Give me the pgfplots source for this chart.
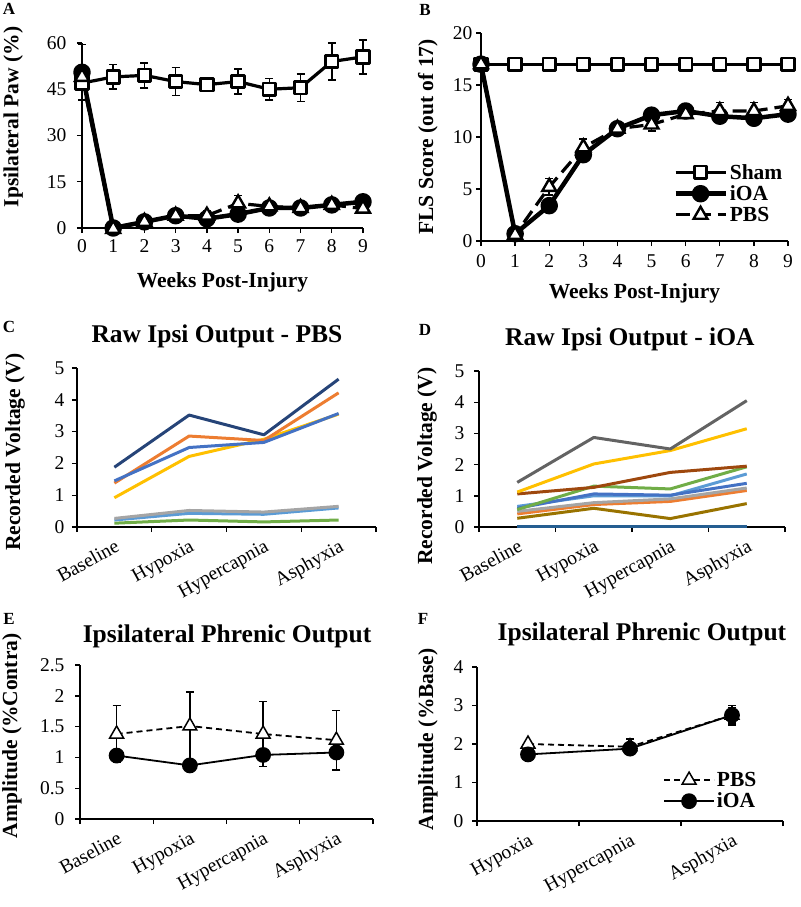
\documentclass[border=0pt]{standalone}
\usepackage{fontspec}
\setmainfont{Liberation Serif}
\usepackage{pgfplots}
\pgfplotsset{compat=1.18}
\definecolor{cnavy}{HTML}{264478}
\definecolor{corange}{HTML}{ED7D31}
\definecolor{cblue}{HTML}{4472C4}
\definecolor{cyellow}{HTML}{FFC000}
\definecolor{cgray}{HTML}{A5A5A5}
\definecolor{clblue}{HTML}{5B9BD5}
\definecolor{cgreen}{HTML}{70AD47}
\definecolor{cdgray}{HTML}{636363}
\definecolor{cbrown}{HTML}{9E480E}
\definecolor{colive}{HTML}{997300}
\definecolor{cdblue}{HTML}{255E91}
\pgfplotsset{
  base/.style={scale only axis, anchor=south west, axis x line*=bottom, axis y line*=left,
    axis line style={line width=1.6pt,-}, tick style={black, line width=1.4pt},
    tick align=outside, major tick length=5pt,
    tick label style={font=\fontsize{19.5}{21}\selectfont},
    /pgf/number format/assume math mode=true,
    label style={font=\bfseries\fontsize{21.5}{23}\selectfont},
    clip=false},
  cat/.style={x tick label as interval, xticklabel style={rotate=29, anchor=north east, font=\fontsize{19.5}{21}\selectfont, yshift=-2pt}},
  ylab/.style 2 args={ylabel style={at={(axis description cs:#1,#2)}, anchor=center}},
  xlab/.style={xlabel style={at={(axis description cs:0.5,#1)}, anchor=center}},
  ttl/.style 2 args={title style={at={(axis description cs:#1,#2)}, anchor=center, font=\bfseries\fontsize{25.5}{27}\selectfont}},
  sham/.style={black, line width=3.2pt, line join=round, mark=square*, mark size=6.3pt, mark options={fill=white, solid, line width=2.8pt}},
  ioa/.style={black, line width=4.5pt, line join=round, mark=*, mark size=6.5pt, mark options={fill=black, solid}},
  pbs/.style={black, line width=3.2pt, dash pattern=on 14pt off 7pt, mark=triangle*, mark size=8pt, mark options={fill=white, solid, line width=2.4pt}},
  ioaE/.style={black, line width=1.8pt, mark=*, mark size=7pt, mark options={fill=black, solid}},
  pbsE/.style={black, line width=1.8pt, dash pattern=on 6pt off 4pt, mark=triangle*, mark size=8pt, mark options={fill=white, solid, line width=1.5pt}},
  eb/.style={error bars/.cd, y dir=both, y explicit, error bar style={line width=1.6pt, solid, black}, error mark options={rotate=90, mark size=4pt, line width=1.6pt, black, solid}},
  lic/.style={legend image code/.code={\draw[mark repeat=2,mark phase=2,##1] plot coordinates {(0pt,0pt) (25pt,0pt) (50pt,0pt)};}},
  cl/.style={line width=3pt, line join=round, no marks},
}
\begin{document}
\begin{tikzpicture}
\useasboundingbox (0,0) rectangle (800pt,-907pt);
\tikzset{pl/.style={font=\bfseries\fontsize{17}{19}\selectfont, inner sep=0pt}}
\node[pl] at (9pt,-9pt) {A};
\node[pl] at (425pt,-10pt) {B};
\node[pl] at (9pt,-327pt) {C};
\node[pl] at (425pt,-330pt) {D};
\node[pl] at (9pt,-619pt) {E};
\node[pl] at (423pt,-619pt) {F};

% ---------- A ----------
\begin{axis}[base, at={(82pt,-228pt)}, width=281pt, height=185pt,
  xmin=0, xmax=9, ymin=0, ymax=60, xtick={0,...,9}, ytick={0,15,30,45,60},
  yticklabel style={xshift=-7pt}, xticklabel style={yshift=-3pt},
  xlabel={Weeks Post-Injury}, ylabel={Ipsilateral Paw (\%)}, xlab=-0.292, ylab={-0.245}{0.6}]
\addplot[sham, eb] table[x=x, y=y, y error=e] {
x y e
0 47 2
1 49 4
2 49.5 4
3 47.5 4.5
4 46.5 1.5
5 47.5 4
6 45 3.5
7 45.5 4.5
8 54 6
9 55.5 5.5
};
\addplot[ioa, eb] table[x=x, y=y, y error=e] {
x y e
0 50.5 9
1 0 0.5
2 2 1
3 4 1
4 3 1
5 4.5 1
6 6.5 1
7 6.5 1
8 7.5 1
9 8.5 1
};
\addplot[pbs, eb] table[x=x, y=y, y error=e] {
x y e
0 49 3
1 -0.3 0.5
2 2 1
3 4 1
4 4 1.5
5 8 2.5
6 7 1
7 6.5 1
8 7.5 1.5
9 6.3 1
};
\end{axis}

% ---------- B ----------
\begin{axis}[base, lic, at={(481pt,-241pt)}, width=307pt, height=208pt,
  xmin=0, xmax=9, ymin=0, ymax=20, xtick={0,...,9}, ytick={0,5,10,15,20},
  xticklabel style={yshift=-5pt},
  xlabel={Weeks Post-Injury}, ylabel={FLS Score (out of 17)}, xlab=-0.25, ylab={-0.173}{0.5},
  legend style={draw=none, fill=none, at={(0.616,0.39)}, anchor=north west, font=\bfseries\fontsize{21.5}{23}\selectfont, row sep=1pt},
  legend cell align=left]
\addplot[sham, eb] table[x=x, y=y, y error=e] {
x y e
0 17 0.2
1 17 0.2
2 17 0.2
3 17 0.2
4 17 0.2
5 17 0.2
6 17 0.2
7 17 0.2
8 17 0.2
9 17 0.2
};
\addlegendentry{Sham}
\addplot[ioa, eb] table[x=x, y=y, y error=e] {
x y e
0 17 0.3
1 0.7 0.4
2 3.4 0.5
3 8.3 0.5
4 10.8 0.4
5 12.1 0.4
6 12.5 0.4
7 12.0 0.4
8 11.8 0.4
9 12.2 0.4
};
\addlegendentry{iOA}
\addplot[pbs, eb] table[x=x, y=y, y error=e] {
x y e
0 17 0.3
1 0.6 0.5
2 5.2 0.8
3 9.0 0.8
4 10.8 0.4
5 11.2 0.6
6 12.2 0.4
7 12.5 0.8
8 12.5 0.8
9 13.0 0.6
};
\addlegendentry{PBS}
\end{axis}

% ---------- C ----------
\begin{axis}[base, cat, at={(77pt,-527pt)}, width=299pt, height=159pt,
  xmin=-0.5, xmax=3.5, ymin=0, ymax=5, xtick={-0.5,0.5,1.5,2.5,3.5},
  xticklabels={Baseline,Hypoxia,Hypercapnia,Asphyxia}, ytick={0,...,5},
  yticklabel style={xshift=-4pt},
  ylabel={Recorded Voltage (V)}, ylab={-0.207}{0.47},
  title={Raw Ipsi Output - PBS}, ttl={0.468}{1.164}]
\addplot[cl, cgreen] coordinates {(0,0.12) (1,0.22) (2,0.16) (3,0.22)};
\addplot[cl, clblue] coordinates {(0,0.22) (1,0.43) (2,0.40) (3,0.60)};
\addplot[cl, cgray] coordinates {(0,0.27) (1,0.52) (2,0.47) (3,0.65)};
\addplot[cl, cyellow] coordinates {(0,0.92) (1,2.22) (2,2.76) (3,3.55)};
\addplot[cl, corange] coordinates {(0,1.38) (1,2.86) (2,2.72) (3,4.22)};
\addplot[cl, cnavy] coordinates {(0,1.88) (1,3.52) (2,2.90) (3,4.65)};
\addplot[cl, cblue] coordinates {(0,1.45) (1,2.50) (2,2.66) (3,3.57)};
\end{axis}

% ---------- D ----------
\begin{axis}[base, cat, at={(479pt,-527pt)}, width=306pt, height=156pt,
  xmin=-0.5, xmax=3.5, ymin=0, ymax=5, xtick={-0.5,0.5,1.5,2.5,3.5},
  xticklabels={Baseline,Hypoxia,Hypercapnia,Asphyxia}, ytick={0,...,5},
  yticklabel style={xshift=-6pt},
  ylabel={Recorded Voltage (V)}, ylab={-0.170}{0.39},
  title={Raw Ipsi Output - iOA}, ttl={0.493}{1.167}]
\addplot[cl, cdblue] coordinates {(0,0.02) (1,0.02) (2,0.02) (3,0.02)};
\addplot[cl, colive] coordinates {(0,0.28) (1,0.60) (2,0.27) (3,0.75)};
\addplot[cl, corange] coordinates {(0,0.42) (1,0.72) (2,0.82) (3,1.17)};
\addplot[cl, cgray] coordinates {(0,0.50) (1,0.78) (2,0.90) (3,1.25)};
\addplot[cl, clblue] coordinates {(0,0.66) (1,1.00) (2,1.00) (3,1.70)};
\addplot[cl, cblue] coordinates {(0,0.60) (1,1.06) (2,1.02) (3,1.40)};
\addplot[cl, cgreen] coordinates {(0,0.56) (1,1.31) (2,1.22) (3,1.93)};
\addplot[cl, cbrown] coordinates {(0,1.06) (1,1.27) (2,1.75) (3,1.95)};
\addplot[cl, cyellow] coordinates {(0,1.12) (1,2.02) (2,2.45) (3,3.15)};
\addplot[cl, cdgray] coordinates {(0,1.43) (1,2.87) (2,2.50) (3,4.05)};
\end{axis}

% ---------- E ----------
\begin{axis}[base, cat, at={(80pt,-819pt)}, width=293pt, height=154pt,
  xmin=-0.5, xmax=3.5, ymin=0, ymax=2.5, xtick={-0.5,0.5,1.5,2.5,3.5},
  xticklabels={Baseline,Hypoxia,Hypercapnia,Asphyxia}, ytick={0,0.5,1,1.5,2,2.5},
  yticklabels={0,0.5,1,1.5,2,2.5}, yticklabel style={xshift=-7pt},
  ylabel={Amplitude (\%Contra)}, ylab={-0.232}{0.54},
  title={Ipsilateral Phrenic Output}, ttl={0.502}{1.149}]
\addplot[pbsE, eb] table[x=x, y=y, y error=e] {
x y e
0 1.38 0.46
1 1.51 0.55
2 1.38 0.53
3 1.28 0.48
};
\addplot[ioaE, eb] table[x=x, y=y, y error=e] {
x y e
0 1.03 0.03
1 0.87 0.03
2 1.04 0.03
3 1.08 0.03
};
\end{axis}

% ---------- F ----------
\begin{axis}[base, cat, lic, at={(477pt,-821pt)}, width=306pt, height=154pt,
  xmin=-0.5, xmax=2.5, ymin=0, ymax=4, xtick={-0.5,0.5,1.5,2.5},
  xticklabels={Hypoxia,Hypercapnia,Asphyxia}, ytick={0,...,4},
  yticklabel style={xshift=-5pt},
  ylabel={Amplitude (\%Base)}, ylab={-0.160}{0.53},
  title={Ipsilateral Phrenic Output}, ttl={0.539}{1.175},
  legend style={draw=none, fill=none, at={(0.598,0.344)}, anchor=north west, font=\bfseries\fontsize{21.5}{23}\selectfont, row sep=1pt},
  legend cell align=left]
\addplot[pbsE, eb] table[x=x, y=y, y error=e] {
x y e
0 2.0 0.05
1 1.93 0.2
2 2.75 0.2
};
\addlegendentry{PBS}
\addplot[ioaE, eb] table[x=x, y=y, y error=e] {
x y e
0 1.73 0.08
1 1.88 0.15
2 2.75 0.25
};
\addlegendentry{iOA}
\end{axis}
\end{tikzpicture}
\end{document}
